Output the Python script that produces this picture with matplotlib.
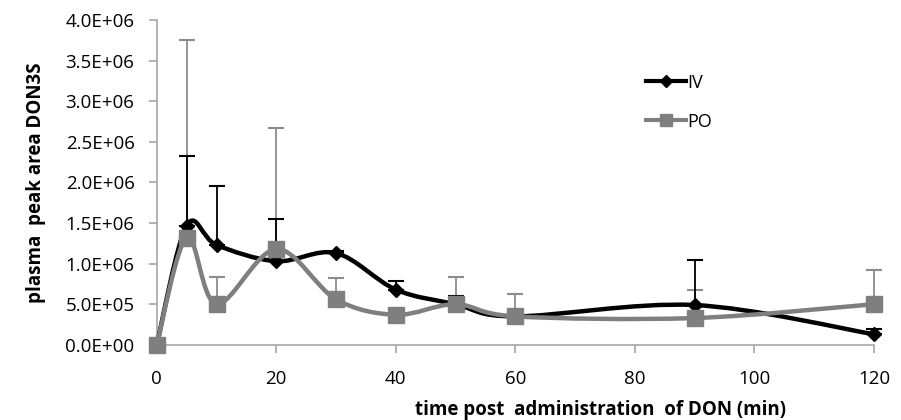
import numpy as np
import matplotlib
matplotlib.use("Agg")
import matplotlib.pyplot as plt
from matplotlib.path import Path
from matplotlib.patches import PathPatch
from matplotlib.lines import Line2D
from matplotlib.ticker import FuncFormatter

plt.rcParams['font.family'] = ['Open Sans', 'DejaVu Sans']

time = [0, 5, 10, 20, 30, 40, 50, 60, 90, 120]
iv_mean = [0, 1.47e6, 1.23e6, 1.03e6, 1.13e6, 0.68e6, 0.50e6, 0.35e6, 0.49e6, 0.13e6]
iv_upper = [0, 2.33e6, 1.96e6, 1.55e6, 1.16e6, 0.79e6, 0.60e6, 0.37e6, 1.05e6, 0.20e6]
po_mean = [0, 1.32e6, 0.50e6, 1.18e6, 0.56e6, 0.37e6, 0.50e6, 0.35e6, 0.33e6, 0.50e6]
po_upper = [0, 3.76e6, 0.84e6, 2.67e6, 0.82e6, 0.40e6, 0.84e6, 0.63e6, 0.68e6, 0.92e6]
yticks = [0, 5e5, 1e6, 1.5e6, 2e6, 2.5e6, 3e6, 3.5e6, 4e6]
xticks = [0, 20, 40, 60, 80, 100, 120]

fig = plt.figure(figsize=(9.01, 4.2), dpi=100)
ax = fig.add_axes([0.174, 0.179, 0.796, 0.773])


def smooth_path(x, y, t=1/6):
    x = np.asarray(x, float); y = np.asarray(y, float)
    n = len(x)
    verts = [(x[0], y[0])]
    codes = [Path.MOVETO]
    for i in range(n - 1):
        x0, y0 = (x[i-1], y[i-1]) if i > 0 else (x[i], y[i])
        x3, y3 = (x[i+2], y[i+2]) if i + 2 < n else (x[i+1], y[i+1])
        c1 = (x[i] + (x[i+1] - x0) * t, y[i] + (y[i+1] - y0) * t)
        c2 = (x[i+1] - (x3 - x[i]) * t, y[i+1] - (y3 - y[i]) * t)
        verts += [c1, c2, (x[i+1], y[i+1])]
        codes += [Path.CURVE4] * 3
    return Path(verts, codes)


gray = '#7f7f7f'
for xs, m, u, c in [(time, po_mean, po_upper, '#8c8c8c'), (time, iv_mean, iv_upper, 'black')]:
    err = np.array(u) - np.array(m)
    eb = ax.errorbar(xs, m, yerr=[np.zeros_like(err), err], fmt='none', ecolor=c,
                     elinewidth=1.3, capsize=6, capthick=1.5, zorder=2)
    for art in eb.lines[1] + eb.lines[2]:
        art.set_clip_on(False)

p1 = PathPatch(smooth_path(time, iv_mean), fill=False, edgecolor='black', lw=3.2, zorder=3)
p1.set_clip_on(False)
ax.add_patch(p1)
ax.plot(time, iv_mean, linestyle='none', marker='D', ms=7, color='black', zorder=4, clip_on=False)
p2 = PathPatch(smooth_path(time, po_mean), fill=False, edgecolor=gray, lw=3.2, zorder=5)
p2.set_clip_on(False)
ax.add_patch(p2)
ax.plot(time, po_mean, linestyle='none', marker='s', ms=11, color=gray, zorder=6, clip_on=False)

ax.set_xlim(0, 120)
ax.set_ylim(0, 4e6)
ax.set_xticks(xticks)
ax.set_yticks(yticks)
ax.yaxis.set_major_formatter(FuncFormatter(lambda v, p: '%.1fE+%02d' % (v / 10**int(np.floor(np.log10(v))), int(np.floor(np.log10(v)))) if v > 0 else '0.0E+00'))
for s in ['top', 'right']:
    ax.spines[s].set_visible(False)
for s in ['left', 'bottom']:
    ax.spines[s].set_color('#a6a6a6')
    ax.spines[s].set_linewidth(1.2)
ax.tick_params(axis='both', colors='#a6a6a6', labelcolor='black', labelsize=13.5, length=6, width=1.2)
ax.tick_params(axis='x', pad=12)
ax.tick_params(axis='y', pad=10)

ax.set_xlabel('time post  administration  of DON (min)', fontsize=13.5, fontweight='bold')
ax.xaxis.set_label_coords(0.618, -0.17)
ax.set_ylabel('plasma  peak area DON3S', fontsize=13.5, fontweight='bold', labelpad=14)

handles = [Line2D([], [], color='black', lw=3, marker='D', ms=6),
           Line2D([], [], color=gray, lw=3, marker='s', ms=9)]
leg = ax.legend(handles, ['IV', 'PO'], loc='upper left', bbox_to_anchor=(0.66, 0.885),
                frameon=False, handlelength=2.2, labelspacing=1.15, handletextpad=0.05, fontsize=13)

fig.savefig('out.png', dpi=100)
